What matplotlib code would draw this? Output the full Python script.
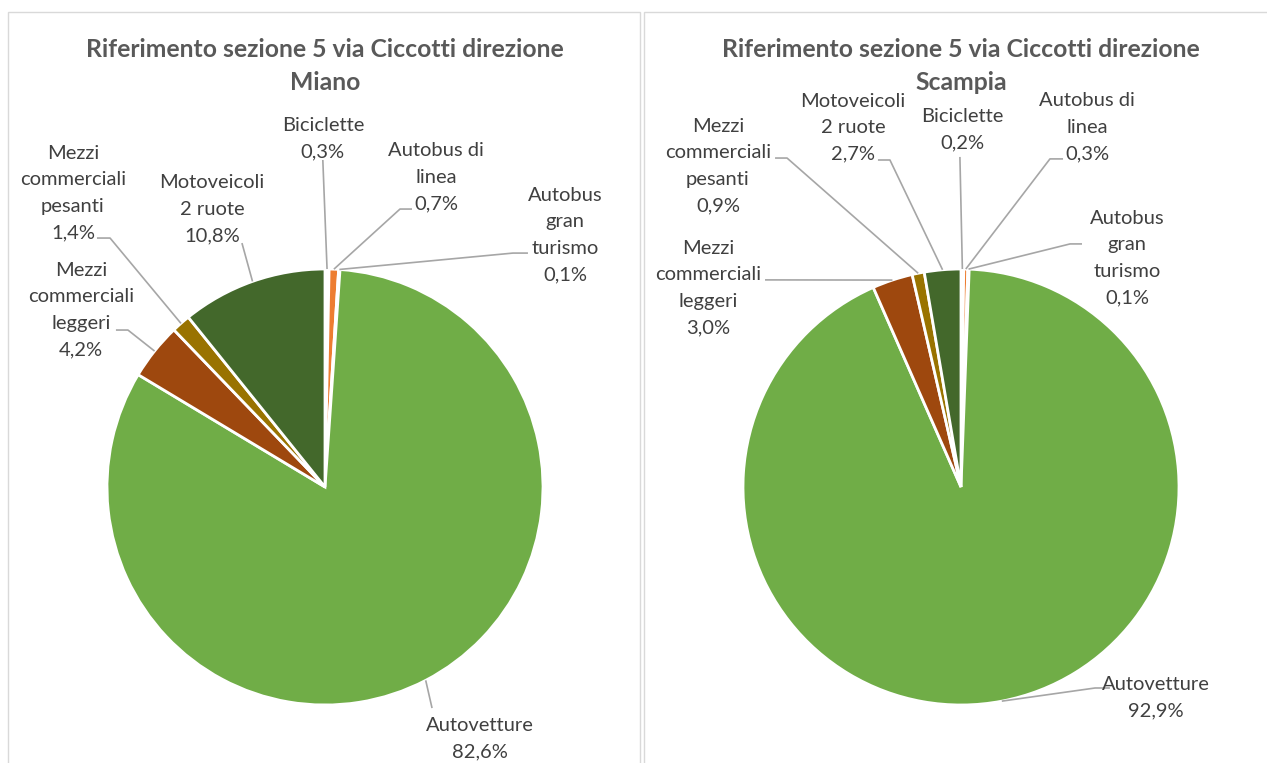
import matplotlib
matplotlib.use("Agg")
import matplotlib.pyplot as plt
from matplotlib.patches import Rectangle
import numpy as np

# ---------------- data ----------------
categories = ["Biciclette", "Autobus di linea", "Autobus gran turismo", "Autovetture",
              "Mezzi commerciali leggeri", "Mezzi commerciali pesanti", "Motoveicoli 2 ruote"]
label_names = ["Biciclette", "Autobus di\nlinea", "Autobus\ngran\nturismo", "Autovetture",
               "Mezzi\ncommerciali\nleggeri", "Mezzi\ncommerciali\npesanti", "Motoveicoli\n2 ruote"]
miano_values = [0.3, 0.7, 0.1, 82.6, 4.2, 1.4, 10.8]
scampia_values = [0.2, 0.3, 0.1, 92.9, 3.0, 0.9, 2.7]
titles = ["Riferimento sezione 5 via Ciccotti direzione\nMiano",
          "Riferimento sezione 5 via Ciccotti direzione\nScampia"]

# ---------------- style / layout ----------------
colors = ["#FFFFFF", "#ED7D31", "#FFFFFF", "#70AD47", "#9E480E", "#997300", "#43682B"]
W, H = 1267, 763
R_PX = 218.0
FONT = "Lato"

# label block centres (in pie-radius units relative to pie centre)
left_label_pos = [(-0.01, 1.596), (0.509, 1.422), (1.101, 1.156), (0.711, -1.156),
                  (-1.119, 0.812), (-1.156, 1.349), (-0.518, 1.275)]
right_label_pos = [(0.005, 1.638), (0.578, 1.651), (0.761, 1.050), (0.892, -0.968),
                   (-1.161, 0.913), (-1.115, 1.472), (-0.495, 1.647)]
# leader line start (near text) and optional elbow
left_leaders = [((-0.01, 1.50), None), ((0.399, 1.275), (0.344, 1.275)),
                ((0.931, 1.073), (0.862, 1.073)), ((0.491, -1.014), None),
                ((-0.959, 0.720), (-0.904, 0.720)), ((-1.046, 1.142), (-0.986, 1.142)),
                ((-0.381, 1.119), None)]
right_leaders = [((-0.005, 1.514), None), ((0.468, 1.505), (0.408, 1.505)),
                 ((0.555, 1.115), (0.500, 1.115)), ((0.683, -0.922), (0.615, -0.922)),
                 ((-0.899, 0.950), None), ((-0.853, 1.509), (-0.798, 1.509)),
                 ((-0.381, 1.500), (-0.326, 1.500))]

panels = [
    dict(values=miano_values, title=titles[0], cx=325.0, cy=487.0, x0=0, x1=642,
         labels=left_label_pos, leaders=left_leaders),
    dict(values=scampia_values, title=titles[1], cx=961.0, cy=487.0, x0=642, x1=W,
         labels=right_label_pos, leaders=right_leaders),
]

fig = plt.figure(figsize=(W / 100, H / 100), dpi=100)
fig.patch.set_facecolor("white")

# panel borders
for (bx0, bx1) in [(8, 640), (644, 1280)]:
    fig.add_artist(Rectangle((bx0 / W, -0.05), (bx1 - bx0) / W, 1.05 - 12 / H,
                             transform=fig.transFigure, fill=False,
                             edgecolor="#D9D9D9", linewidth=1.0))

def pct(v):
    return f"{v:.1f}%".replace(".", ",")

for p in panels:
    ax = fig.add_axes([p["x0"] / W, 0, (p["x1"] - p["x0"]) / W, 1])
    vals = p["values"]
    wedges, _ = ax.pie(vals, colors=colors, startangle=90, counterclock=False,
                       radius=1.0, center=(0, 0),
                       wedgeprops=dict(edgecolor="white", linewidth=2.0))
    ax.set_xlim((p["x0"] - p["cx"]) / R_PX, (p["x1"] - p["cx"]) / R_PX)
    ax.set_ylim((p["cy"] - H) / R_PX, p["cy"] / R_PX)
    ax.set_aspect("auto")
    ax.axis("off")

    # labels + leaders
    for w, name, v, lp, (anchor, elbow) in zip(wedges, label_names, vals,
                                               p["labels"], p["leaders"]):
        mid = np.deg2rad((w.theta1 + w.theta2) / 2)
        ex, ey = 1.0 * np.cos(mid), 1.0 * np.sin(mid)
        pts = [anchor] + ([elbow] if elbow else []) + [(ex, ey)]
        xs, ys = zip(*pts)
        ax.plot(xs, ys, color="#A6A6A6", linewidth=1.2, solid_capstyle="butt", zorder=1)
        ax.text(lp[0], lp[1], name + "\n" + pct(v), ha="center", va="center",
                multialignment="center", fontsize=14.5, family=FONT, color="#404040",
                linespacing=1.67)

    # title
    fig.text(p["cx"] / W, 1 - 66 / H, p["title"], ha="center", va="center",
             multialignment="center", fontsize=17.8, family=FONT, fontweight="bold",
             color="#595959", linespacing=1.5)

fig.savefig("out.png", dpi=100, facecolor="white")
